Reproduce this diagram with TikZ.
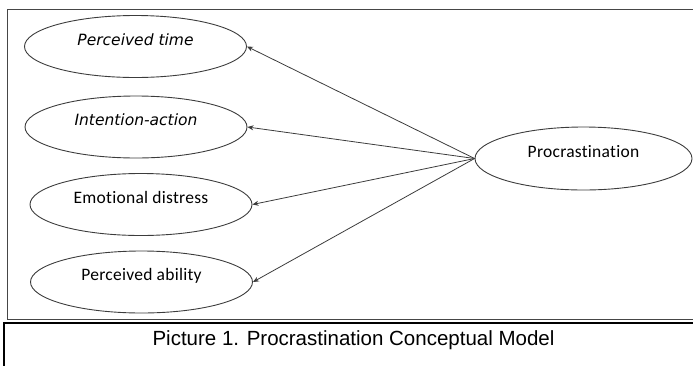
\documentclass[tikz,border=0pt]{standalone}
\usepackage{fontspec}
\setmainfont{Liberation Sans}
\newfontfamily\calibrifont[Ligatures=NoCommon, LetterSpace=1.5]{Carlito}
\newfontfamily\verdanafont{DejaVu Sans}
\usetikzlibrary{shapes.geometric,arrows.meta}
\definecolor{pcGray}{RGB}{60,60,60}
\definecolor{pcFrame}{RGB}{70,70,70}

\begin{document}
\begin{tikzpicture}[x=1pt, y=-1pt,
  factor/.style={ellipse, draw=pcGray, line width=0.9pt, minimum width=222pt, minimum height=62pt,
    inner sep=0pt, text height=12pt, text depth=15pt},
  link/.style={-{Stealth[length=6pt, width=5pt]}, pcGray, line width=0.8pt}]
  \useasboundingbox (0,0) rectangle (693,365);

  % Frames
  \draw[pcFrame, line width=1pt] (7,9) rectangle (720,319);
  \draw[black, line width=2pt] (4,323) rectangle (720,390);

  % Factors
  \foreach \name/\x/\y/\txt in {time/135.5/46.5/{\verdanafont\itshape\fontsize{15.5}{18}\selectfont Perceived time},
                                intent/136/127/{\verdanafont\itshape\fontsize{15.5}{18}\selectfont Intention-action},
                                distress/141/204.5/{\calibrifont\fontsize{17.5}{20}\selectfont Emotional distress},
                                ability/141.5/282/{\calibrifont\fontsize{17.5}{20}\selectfont Perceived ability}} {
    \node[factor] (\name) at (\x,\y) {\txt};
  }
  \node[factor, minimum width=217pt, minimum height=63pt] (proc) at (583.5,158.5)
    {\calibrifont\fontsize{17.5}{20}\selectfont Procrastination};

  % Links
  \foreach \name in {time,intent,distress,ability}
    \draw[link] (proc.west) -- (\name.east);

  % Caption
  \node[anchor=base, font=\fontsize{20.5}{24}\selectfont] (caption) at (353.5,345)
    {Picture 1. Procrastination Conceptual Model};
\end{tikzpicture}
\end{document}
